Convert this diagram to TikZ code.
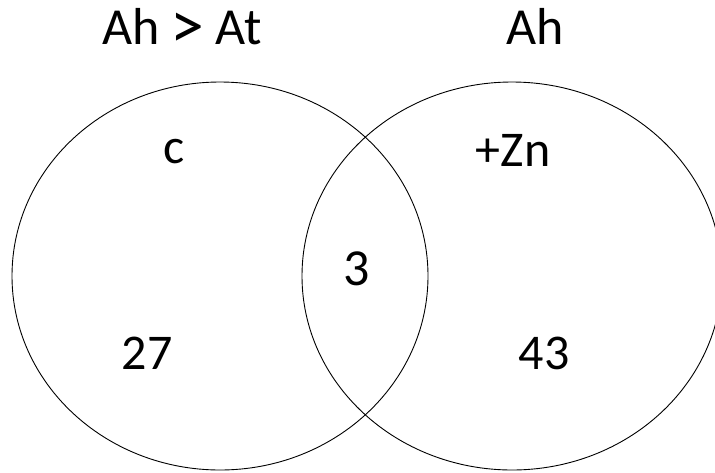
\documentclass[tikz,border=0pt]{standalone}
\usepackage{fontspec}
\setmainfont{Carlito}
\usepackage{graphicx}
\usepackage{tikz}

\tikzset{
	setline/.style={line width=0.9pt},
	settitle/.style={anchor=base, inner sep=0pt, font=\fontsize{52}{56}\selectfont},
	setlabel/.style={anchor=base, inner sep=0pt, font=\fontsize{50}{56}\selectfont}
}
\newcommand{\bigger}{\hspace{-1pt}\smash{\raisebox{-4pt}{\scalebox{1.3}{>}}}\hspace{-1pt}}

\begin{document}
\begin{tikzpicture}[x=1pt, y=-1pt]
	\clip (0,0) rectangle (715,472);
	\draw[setline]
		(220,276) ellipse [x radius=208, y radius=194]
		(512,276) ellipse [x radius=210, y radius=194];
	\node[settitle] (titleleft) at (182,44) {Ah \bigger{} At};
	\node[settitle] (titleright) at (535,44) {Ah};
	\node[setlabel] (onlyc) at (174,163) {c};
	\node[setlabel] (onlyzn) at (513,166) {+Zn};
	\node[settitle] (both) at (357,285) {3};
	\node[setlabel] (leftcount) at (147,369) {27};
	\node[setlabel] (rightcount) at (544,369) {43};
\end{tikzpicture}
\end{document}
